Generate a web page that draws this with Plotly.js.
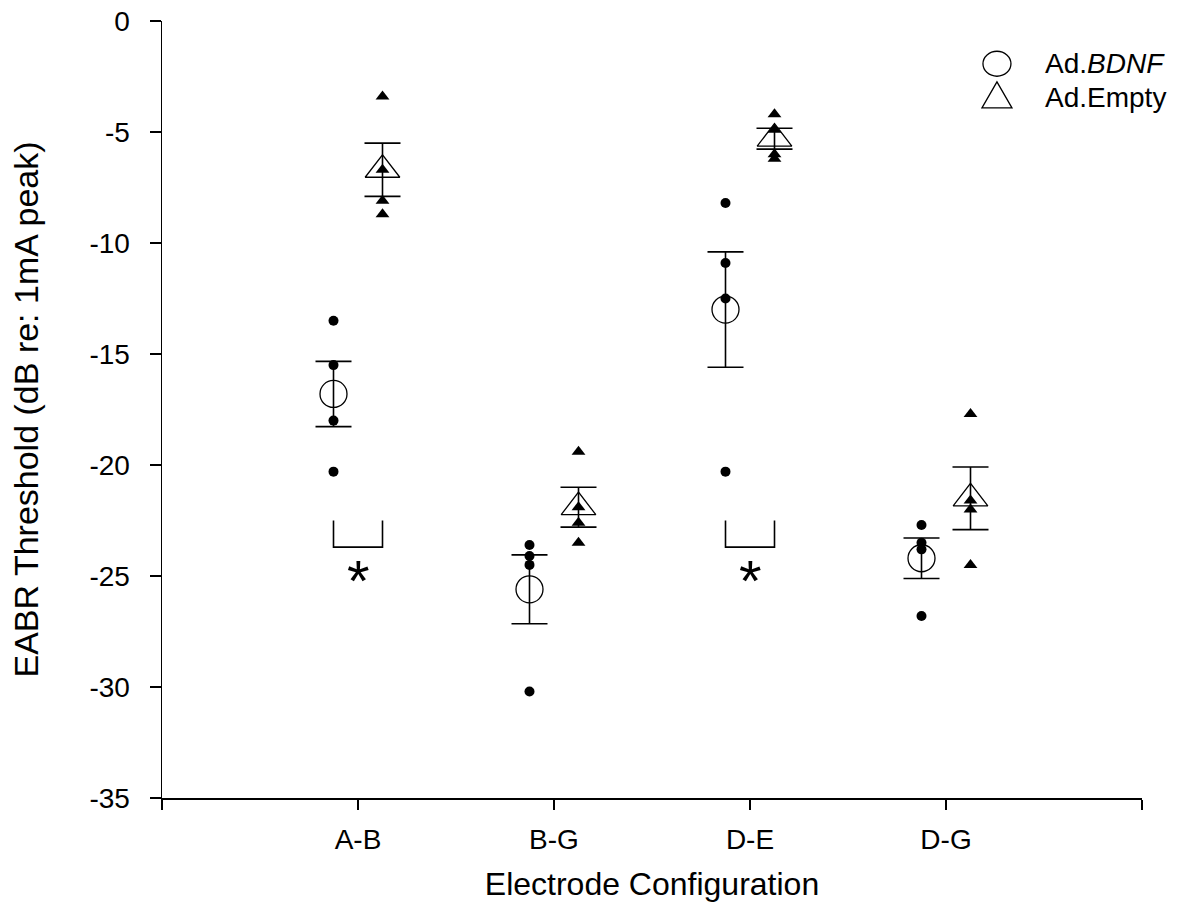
<!DOCTYPE html>
<html>
<head>
<meta charset="utf-8">
<script src="https://cdn.plot.ly/plotly-3.0.1.min.js"></script>
<style>html,body{margin:0;padding:0;background:#fff;}#chart{width:1191px;height:919px;}</style>
</head>
<body>
<div id="chart"></div>
<script>
// ---- data ----
const categories = ['A-B', 'B-G', 'D-E', 'D-G'];
const bdnfPoints = [
  [-13.5, -15.5, -18.0, -20.3],
  [-23.6, -24.1, -24.5, -30.2],
  [-8.2, -10.9, -12.5, -20.3],
  [-22.7, -23.5, -23.8, -26.8]
];
const emptyPoints = [
  [-3.4, -6.7, -8.1, -8.7],
  [-19.4, -21.9, -22.6, -23.5],
  [-4.2, -4.9, -6.0, -6.2],
  [-17.7, -21.6, -22.0, -24.5]
];
const bdnfMean = [-16.8, -25.6, -13.0, -24.2];
const bdnfSE = [1.47, 1.55, 2.6, 0.91];
const emptyMean = [-6.7, -21.9, -5.3, -21.5];
const emptySE = [1.2, 0.9, 0.47, 1.41];
const sigGroups = ['A-B', 'D-E'];
const seriesNames = ['Ad.<i>BDNF</i>', 'Ad.Empty'];
const yTickVals = [0, -5, -10, -15, -20, -25, -30, -35];
const yTickLabels = ['0', '-5', '-10', '-15', '-20', '-25', '-30', '-35'];

// ---- layout helpers ----
const off = 0.125;
const idx = categories.map((c, i) => i + 1);
function ptsX(points, o) { const xs = []; points.forEach((arr, i) => arr.forEach(() => xs.push(idx[i] + o))); return xs; }
function ptsY(points) { const ys = []; points.forEach(arr => arr.forEach(v => ys.push(v))); return ys; }

const FONT = 'Liberation Sans, Arial, sans-serif';
const traces = [
  {
    x: idx.map(v => v - off), y: bdnfMean, name: seriesNames[0], type: 'scatter', mode: 'markers', showlegend: false,
    marker: {symbol: 'circle-open', size: 27, color: '#000', line: {width: 1.3, color: '#000'}},
    error_y: {type: 'data', array: bdnfSE, visible: true, color: '#000', thickness: 1.6, width: 18}
  },
  {
    x: idx.map(v => v + off), y: emptyMean, name: seriesNames[1], type: 'scatter', mode: 'markers', showlegend: false,
    marker: {symbol: 'triangle-up-open', size: 30, color: '#000', line: {width: 1.3, color: '#000'}},
    error_y: {type: 'data', array: emptySE, visible: true, color: '#000', thickness: 1.6, width: 18}
  },
  {
    x: ptsX(bdnfPoints, -off), y: ptsY(bdnfPoints), type: 'scatter', mode: 'markers', showlegend: false,
    marker: {symbol: 'circle', size: 10, color: '#000'}
  },
  {
    x: ptsX(emptyPoints, off), y: ptsY(emptyPoints), type: 'scatter', mode: 'markers', showlegend: false,
    marker: {symbol: 'triangle-up', size: 12, color: '#000'}
  }
];

const shapes = [];
const annotations = [];
sigGroups.forEach(g => {
  const c = idx[categories.indexOf(g)];
  shapes.push({type: 'path', xref: 'x', yref: 'y',
    path: `M ${c - off} -22.5 L ${c - off} -23.7 L ${c + off} -23.7 L ${c + off} -22.5`,
    line: {color: '#000', width: 1.6}});
  annotations.push({x: c, y: -25.2, xref: 'x', yref: 'y', text: '*', showarrow: false,
    font: {family: FONT, size: 58, color: '#000'}, yanchor: 'middle', xanchor: 'center'});
});

// legend drawn with shapes (paper anchor + pixel sizes) so symbols keep reference size
const legX = 0.852;   // paper x of symbol centre
const legY = [0.945, 0.901]; // paper y of rows
shapes.push({type: 'circle', xref: 'paper', yref: 'paper', xsizemode: 'pixel', ysizemode: 'pixel',
  xanchor: legX, yanchor: legY[0], x0: -14, x1: 14, y0: -12.5, y1: 12.5, line: {color: '#000', width: 1.3}});
shapes.push({type: 'path', xref: 'paper', yref: 'paper', xsizemode: 'pixel', ysizemode: 'pixel',
  xanchor: legX, yanchor: legY[1], path: 'M -15 -10 L 15 -10 L 0 16 Z', line: {color: '#000', width: 1.3}});
seriesNames.forEach((n, i) => {
  annotations.push({xref: 'paper', yref: 'paper', x: legX, xshift: 46, y: legY[i], text: n, showarrow: false,
    xanchor: 'left', yanchor: 'middle', font: {family: FONT, size: 28, color: '#000'}});
});

const layout = {
  width: 1191, height: 919,
  margin: {l: 162, r: 49, t: 21, b: 121},
  paper_bgcolor: '#fff', plot_bgcolor: '#fff',
  font: {family: FONT, size: 28, color: '#000'},
  showlegend: false,
  xaxis: {
    range: [0, 5], tickvals: [0, ...idx, 5], ticktext: ['', ...categories, ''],
    showgrid: false, zeroline: false, showline: true, linecolor: '#000', linewidth: 1.5,
    ticks: 'outside', ticklen: 10, tickwidth: 1.5, tickcolor: '#000', ticklabelstandoff: 6,
    tickfont: {family: FONT, size: 28}, fixedrange: true,
    title: {text: 'Electrode Configuration', font: {family: FONT, size: 32}, standoff: 18}
  },
  yaxis: {
    range: [-35, 0], tickvals: yTickVals, ticktext: yTickLabels,
    showgrid: false, zeroline: false, showline: true, linecolor: '#000', linewidth: 1.5,
    ticks: 'outside', ticklen: 11, tickwidth: 1.5, tickcolor: '#000', ticklabelstandoff: 14,
    tickfont: {family: FONT, size: 28}, fixedrange: true,
    title: {text: 'EABR Threshold (dB re: 1mA peak)', font: {family: FONT, size: 34}, standoff: 40}
  },
  shapes: shapes,
  annotations: annotations
};

Plotly.newPlot('chart', traces, layout, {displayModeBar: false, staticPlot: true});
</script>
</body>
</html>
